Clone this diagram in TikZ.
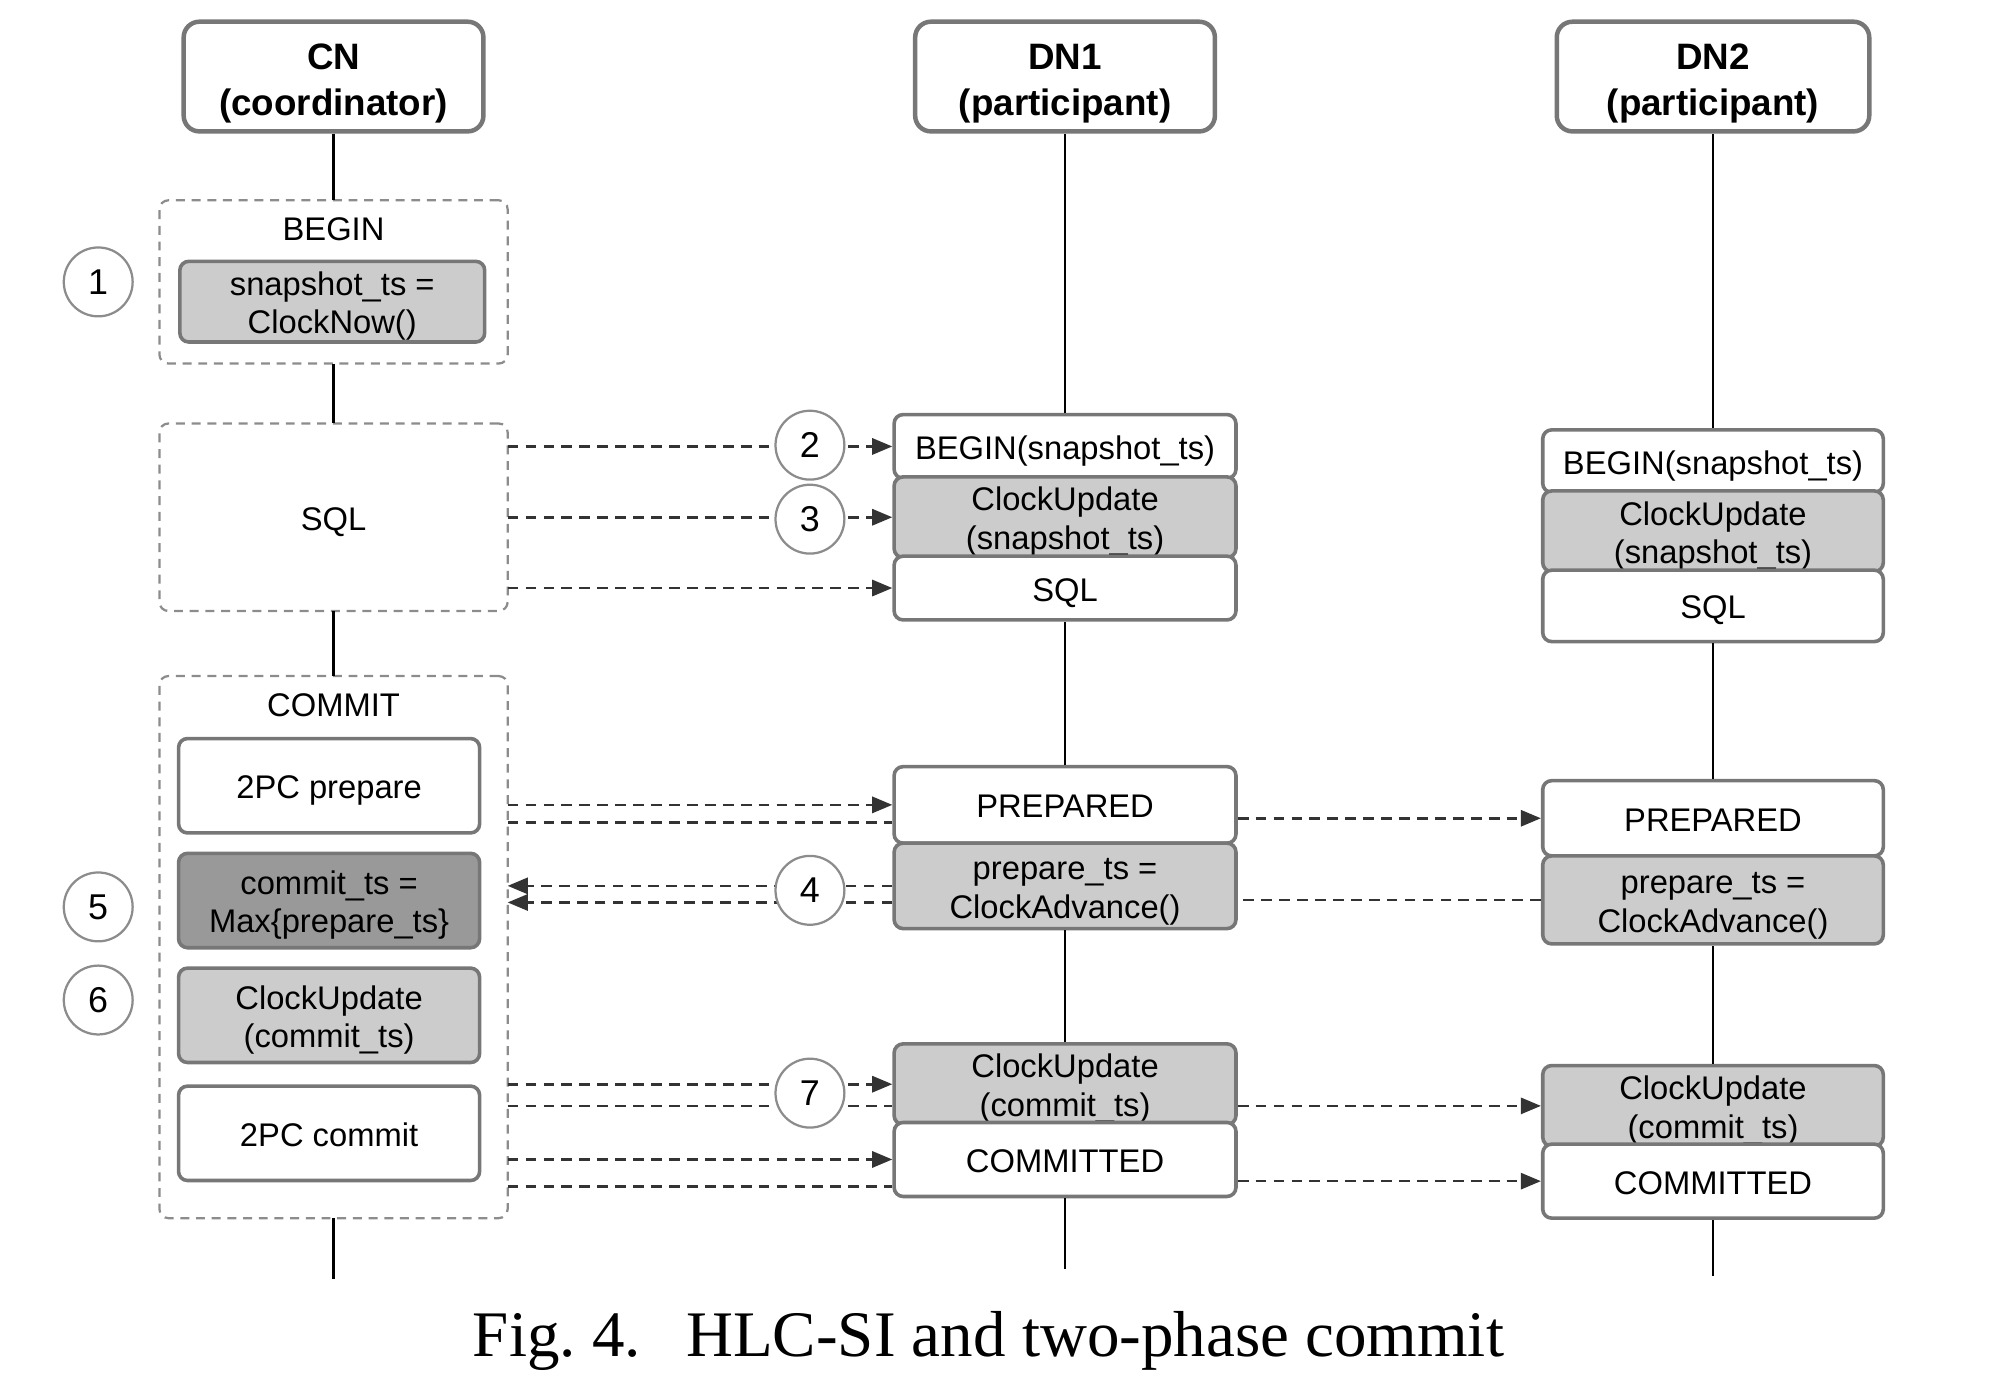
\documentclass[tikz,border=0pt]{standalone}
\usepackage{fontspec}
\setmainfont{Liberation Serif}
\setsansfont{Liberation Sans}
\usetikzlibrary{calc,arrows.meta}
\definecolor{edgegray}{HTML}{777777}
\definecolor{lightfill}{HTML}{CCCCCC}
\definecolor{darkfill}{HTML}{999999}
\definecolor{phasegray}{HTML}{8C8C8C}
\newcommand{\boxstrut}{\rule[-1.8pt]{0pt}{9.4pt}}
\tikzset{
  headbox/.style={draw=edgegray, line width=1pt, rounded corners=3.5pt, fill=white, align=center, inner sep=0pt, minimum height=8.6mm, font=\sffamily\bfseries\fontsize{8.2}{10.2}\selectfont, execute at begin node={\rule{0pt}{19pt}}},
  opbox/.style={draw=edgegray, line width=0.8pt, rounded corners=2pt, fill=white, align=center, inner sep=0pt, font=\sffamily\fontsize{7.3}{8.6}\selectfont, execute at begin node=\boxstrut},
  opgray/.style={opbox, fill=lightfill},
  opdark/.style={opbox, fill=darkfill},
  twoline/.style={execute at begin node={\rule{0pt}{16.2pt}}},
  phasebox/.style={draw=phasegray, line width=0.5pt, dash pattern=on 2pt off 1.5pt, rounded corners=2pt, outer sep=0pt, minimum width=27.3mm, font=\sffamily\fontsize{7.3}{8.6}\selectfont, execute at begin node=\boxstrut},
  phaselabel/.style={inner sep=0pt, font=\sffamily\fontsize{7.3}{8.6}\selectfont},
  stepnum/.style={circle, draw=phasegray, line width=0.5pt, fill=white, minimum size=5.4mm, inner sep=0pt, font=\sffamily\fontsize{8}{9}\selectfont},
  life/.style={line width=0.5pt, draw=black},
  msg/.style={line width=0.6pt, draw=black!80, dash pattern=on 2.4pt off 1.6pt},
  >={Triangle[length=4.5pt, width=3.6pt]},
}

\begin{document}
\begin{tikzpicture}[x=0.1mm, y=-0.1mm]
  \useasboundingbox (0,0) rectangle (1568,1080);
  % participants
  \node[headbox, minimum width=23.5mm] (cn) at (261.5,60) {CN\\(coordinator)};
  \node[headbox, minimum width=23.5mm] (dn1) at (835,60) {DN1\\(participant)};
  \node[headbox, minimum width=24.5mm] (dn2) at (1343,60) {DN2\\(participant)};
  % coordinator phases
  \node[phasebox, minimum height=12.8mm] (gbegin) at (261.5,221) {};
  \node[phaselabel] (lbegin) at (261.5,180) {BEGIN};
  \node[opgray, twoline, minimum width=23.9mm, minimum height=5.9mm] (snap) at (260.5,236.5) {snapshot\_ts =\\ClockNow()};
  \node[phasebox, minimum height=14.7mm] (gsql) at (261.5,405.5) {SQL};
  \node[phasebox, minimum height=42.5mm] (gcommit) at (261.5,742.5) {};
  \node[phaselabel] (lcommit) at (261.5,553) {COMMIT};
  \node[opbox, minimum width=23.6mm, minimum height=7.4mm] (prep) at (258,616) {2PC prepare};
  \node[opdark, twoline, minimum width=23.6mm, minimum height=7.4mm] (cts) at (258,706) {commit\_ts =\\Max\{prepare\_ts\}};
  \node[opgray, twoline, minimum width=23.6mm, minimum height=7.4mm] (cupd) at (258,796) {ClockUpdate\\(commit\_ts)};
  \node[opbox, minimum width=23.6mm, minimum height=7.4mm] (pcommit) at (258,888.5) {2PC commit};
  % DN1 steps
  \node[opbox, minimum width=26.8mm, minimum height=5.0mm] (b1) at (835,350) {BEGIN(snapshot\_ts)};
  \node[opgray, twoline, minimum width=26.8mm, minimum height=6.1mm] (cu1) at (835,405.5) {ClockUpdate\\(snapshot\_ts)};
  \node[opbox, minimum width=26.8mm, minimum height=5.0mm] (sql1) at (835,461) {SQL};
  \node[opbox, minimum width=26.8mm, minimum height=6.0mm] (prep1) at (835,631) {PREPARED};
  \node[opgray, twoline, minimum width=26.8mm, minimum height=6.7mm] (pts1) at (835,694.5) {prepare\_ts =\\ClockAdvance()};
  \node[opgray, twoline, minimum width=26.8mm, minimum height=6.0mm] (cuc1) at (835,850) {ClockUpdate\\(commit\_ts)};
  \node[opbox, minimum width=26.8mm, minimum height=5.8mm] (comm1) at (835,909) {COMMITTED};
  % DN2 steps
  \node[opbox, minimum width=26.7mm, minimum height=4.9mm] (b2) at (1343,361.5) {BEGIN(snapshot\_ts)};
  \node[opgray, twoline, minimum width=26.7mm, minimum height=6.1mm] (cu2) at (1343,416.5) {ClockUpdate\\(snapshot\_ts)};
  \node[opbox, minimum width=26.7mm, minimum height=5.6mm] (sql2) at (1343,475) {SQL};
  \node[opbox, minimum width=26.7mm, minimum height=5.9mm] (prep2) at (1343,641.5) {PREPARED};
  \node[opgray, twoline, minimum width=26.7mm, minimum height=6.9mm] (pts2) at (1343,705.5) {prepare\_ts =\\ClockAdvance()};
  \node[opgray, twoline, minimum width=26.7mm, minimum height=6.0mm] (cuc2) at (1343,867) {ClockUpdate\\(commit\_ts)};
  \node[opbox, minimum width=26.7mm, minimum height=5.8mm] (comm2) at (1343,926) {COMMITTED};
  % lifelines
  \coordinate (cnend) at (261.5,1003);
  \coordinate (dn1end) at (835,995);
  \coordinate (dn2end) at (1343,1000);
  \draw[life] (cn.south) -- (gbegin.north);
  \draw[life] (gbegin.south) -- (gsql.north);
  \draw[life] (gsql.south) -- (gcommit.north);
  \draw[life] (gcommit.south) -- (cnend);
  \draw[life] (dn1.south) -- (b1.north);
  \draw[life] (sql1.south) -- (prep1.north);
  \draw[life] (pts1.south) -- (cuc1.north);
  \draw[life] (comm1.south) -- (dn1end);
  \draw[life] (dn2.south) -- (b2.north);
  \draw[life] (sql2.south) -- (prep2.north);
  \draw[life] (pts2.south) -- (cuc2.north);
  \draw[life] (comm2.south) -- (dn2end);
  % messages CN <-> DN1
  \draw[msg, ->] (gsql.east |- b1.west) -- (b1.west);
  \draw[msg, ->] (gsql.east |- cu1.west) -- (cu1.west);
  \draw[msg, ->] (gsql.east |- sql1.west) -- (sql1.west);
  \draw[msg, ->] (gcommit.east |- prep1.west) -- (prep1.west);
  \draw[msg] ($(gcommit.east |- prep1.west)+(0,14)$) -- ($(prep1.west)+(0,14)$);
  \draw[msg, ->] (pts1.west) -- (gcommit.east |- pts1.west);
  \draw[msg, ->] ($(pts1.west)+(0,13)$) -- ($(gcommit.east |- pts1.west)+(0,13)$);
  \draw[msg, ->] (gcommit.east |- cuc1.west) -- (cuc1.west);
  \draw[msg] ($(gcommit.east |- cuc1.west)+(0,17)$) -- ($(cuc1.west)+(0,17)$);
  \draw[msg, ->] (gcommit.east |- comm1.west) -- (comm1.west);
  \draw[msg] ($(gcommit.east |- comm1.west)+(0,21)$) -- ($(comm1.west)+(0,21)$);
  % messages DN1 <-> DN2
  \draw[msg, ->] (prep1.east |- prep2.west) -- (prep2.west);
  \draw[msg] (pts2.west) -- (pts1.east |- pts2.west);
  \draw[msg, ->] (cuc1.east |- cuc2.west) -- (cuc2.west);
  \draw[msg, ->] (comm1.east |- comm2.west) -- (comm2.west);
  % step numbers
  \node[stepnum] (s1) at (77,221) {1};
  \node[stepnum] (s2) at (635,349) {2};
  \node[stepnum] (s3) at (635,407) {3};
  \node[stepnum] (s4) at (635,698) {4};
  \node[stepnum] (s5) at (77,711) {5};
  \node[stepnum] (s6) at (77,784) {6};
  \node[stepnum] (s7) at (635,857) {7};
  % caption
  \node[font=\rmfamily\fontsize{14.5}{17}\selectfont] (caption) at (775,1051) {Fig.~4.\hspace{0.7em}HLC-SI and two-phase commit};
\end{tikzpicture}
\end{document}
